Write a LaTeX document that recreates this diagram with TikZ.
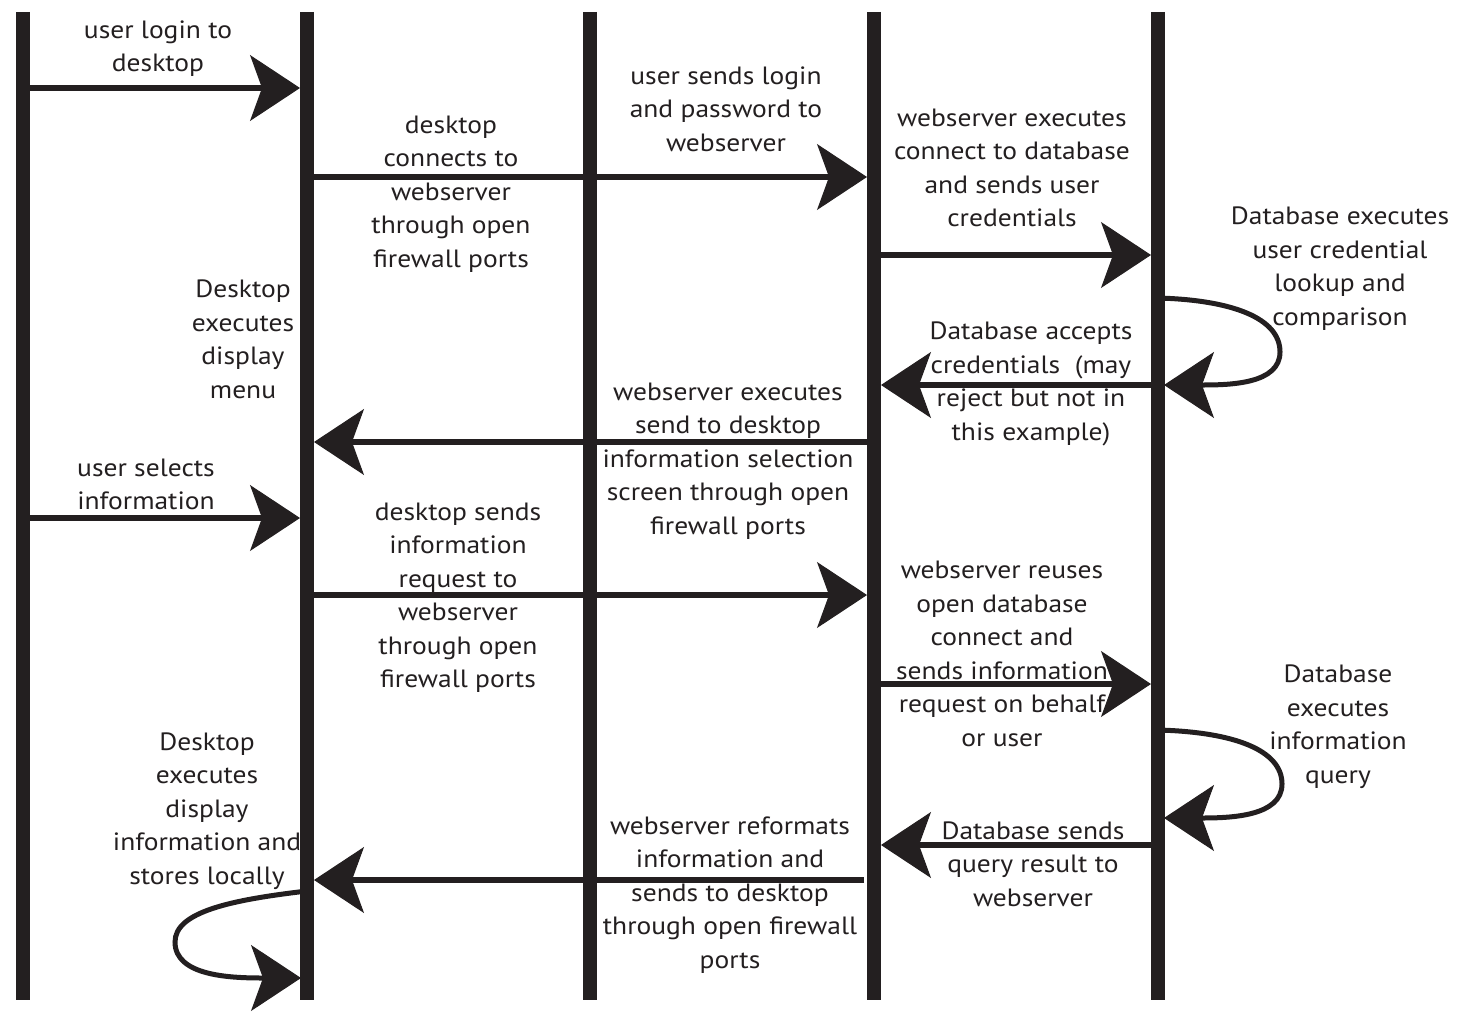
\documentclass[tikz,border=0pt]{standalone}
\usepackage{fontspec}
\setmainfont[FakeStretch=1.1]{PT Sans}
\usetikzlibrary{arrows.meta}
\definecolor{ink}{HTML}{231F20}
\begin{document}
\begin{tikzpicture}[x=1pt,y=-1pt,
  life/.style={draw=ink,line width=14pt},
  tip/.style={-{Stealth[length=50pt,width=66pt,inset=12pt,line width=1pt]}},
  msg/.style={draw=ink,line width=6pt,tip,shorten >=7pt},
  selfmsg/.style={draw=ink,line width=5pt,tip,shorten >=6pt},
  lbl/.style={text=ink,align=center,font=\fontsize{25}{33.5}\selectfont,inner sep=0pt,yshift=-2pt}]
\useasboundingbox (0,0) rectangle (1463,1014);
\foreach \n/\x in {A/23,B/307,C/590,D/874,E/1158} {
  \coordinate (\n) at (\x,12);
  \coordinate (\n end) at (\x,1000);
}
\foreach \n in {A,B,C,D,E} \draw[life] (\n) -- (\n end);
% messages
\draw[msg] (A |- 0,88) -- (B |- 0,88);
\draw[msg] (B |- 0,177) -- (D |- 0,177);
\draw[msg] (D |- 0,255) -- (E |- 0,255);
\draw[selfmsg] (E |- 0,298) .. controls (1232,300) and (1280,318) .. (1280,352)
   .. controls (1280,384) and (1230,385) .. (E |- 0,385);
\draw[msg] (E |- 0,385) -- (D |- 0,385);
\draw[msg] (D |- 0,442) -- (B |- 0,442);
\draw[msg] (A |- 0,518) -- (B |- 0,518);
\draw[msg] (B |- 0,595) -- (D |- 0,595);
\draw[msg] (D |- 0,684) -- (E |- 0,684);
\draw[selfmsg] (E |- 0,730) .. controls (1234,732) and (1282,750) .. (1282,784)
   .. controls (1282,816) and (1232,818) .. (E |- 0,818);
\draw[msg] (E |- 0,845) -- (D |- 0,845);
\draw[msg,shorten <=10pt] (D |- 0,880) -- (B |- 0,880);
\draw[selfmsg] (B |- 0,891) .. controls (230,900) and (175,912) .. (175,942)
   .. controls (175,976) and (230,978) .. (B |- 0,978);
% labels
\node[lbl] (t1) at (158,46.5) {user login to\\desktop};
\node[lbl] (t2) at (451,192) {desktop\\connects to\\webserver\\through open\\firewall ports};
\node[lbl] (t3) at (726,107) {user sends login\\and password to\\webserver};
\node[lbl] (t4) at (1012,166) {webserver executes\\connect to database\\and sends user\\credentials};
\node[lbl] (t5) at (1340,266.5) {Database executes\\user credential\\lookup and\\comparison};
\node[lbl] (t6) at (1031,382) {Database accepts\\credentials~~(may\\reject but not in\\this example)};
\node[lbl] (t7) at (728,459) {webserver executes\\send to desktop\\information selection\\screen through open\\firewall ports};
\node[lbl] (t8) at (243,337.5) {Desktop\\executes\\display\\menu};
\node[lbl] (t9) at (146,482.5) {user selects\\information};
\node[lbl] (t10) at (458,595.5) {desktop sends\\information\\request to\\webserver\\through open\\firewall ports};
\node[lbl] (t11) at (1002,652) {webserver reuses\\open database\\connect and\\sends information\\request on behalf\\or user};
\node[lbl] (t12) at (1338,724.5) {Database\\executes\\information\\query};
\node[lbl] (t13) at (1033,862) {Database sends\\query result to\\webserver};
\node[lbl] (t14) at (730,893) {webserver reformats\\information and\\sends to desktop\\through open firewall\\ports};
\node[lbl] (t15) at (207,809) {Desktop\\executes\\display\\information and\\stores locally};
\end{tikzpicture}
\end{document}
